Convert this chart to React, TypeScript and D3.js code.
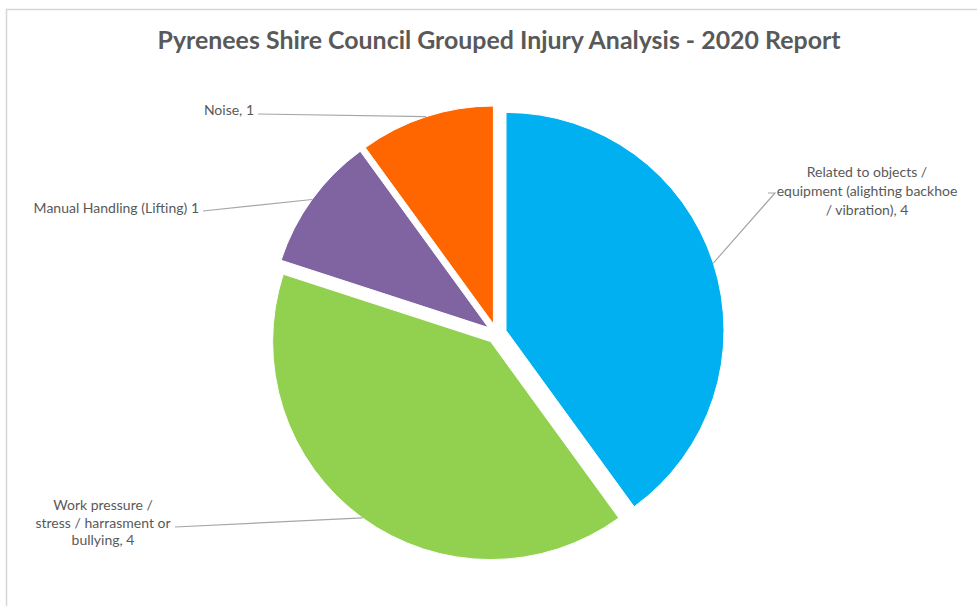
import React from "react";
import * as d3 from "d3";

const title = "Pyrenees Shire Council Grouped Injury Analysis - 2020 Report";
const categories = [
  "Related to objects / equipment (alighting backhoe / vibration)",
  "Work pressure / stress / harrasment or bullying",
  "Manual Handling (Lifting)",
  "Noise",
];
const values = [4, 4, 1, 1];
const colors = ["#00B0F0", "#92D050", "#8064A2", "#FF6600"];
const labelLines = [
  ["Related to objects /", "equipment (alighting backhoe", "/ vibration), 4"],
  ["Work pressure /", "stress / harrasment or", "bullying, 4"],
  ["Manual Handling (Lifting) 1"],
  ["Noise, 1"],
];

// layout
const W = 977;
const H = 606;
const CX = 496.5;
const CY = 333.5;
const R = 218;
const EXPLODE = 10;
const labelLayout = [
  { x: 867, y: 177, anchor: "middle", lh: 19, lx: 768, ly: 193, stub: 775 },
  { x: 103, y: 510, anchor: "middle", lh: 17.5, lx: 175, ly: 527, stub: 175 },
  { x: 199, y: 213, anchor: "end", lh: 17, lx: 203, ly: 211, stub: 203 },
  { x: 254, y: 115, anchor: "end", lh: 17, lx: 258, ly: 114, stub: 258 },
];

export default function App() {
  const pie = d3.pie<number>().sort(null).value((d) => d)(values);
  const arc = d3.arc<d3.PieArcDatum<number>>().innerRadius(0).outerRadius(R);
  const font = "Lato, 'Open Sans', sans-serif";

  return (
    <svg
      width={W}
      height={H}
      style={{ position: "absolute", left: 0, top: 0, background: "#fff" }}
      xmlns="http://www.w3.org/2000/svg"
    >
      <rect x={0} y={0} width={W} height={H} fill="#fff" />
      <line x1={6} y1={9.5} x2={W} y2={9.5} stroke="#d6d6d6" strokeWidth={1.5} />
      <line x1={6.5} y1={9} x2={6.5} y2={H} stroke="#d6d6d6" strokeWidth={1.5} />
      <text
        x={499}
        y={49}
        textAnchor="middle"
        fontFamily={font}
        fontWeight="bold"
        fontSize={24}
        fill="#595959"
        textLength={683}
        lengthAdjust="spacingAndGlyphs"
      >
        {title}
      </text>
      {pie.map((p, i) => {
        const mid = (p.startAngle + p.endAngle) / 2;
        const dx = Math.sin(mid) * EXPLODE;
        const dy = -Math.cos(mid) * EXPLODE;
        const ox = CX + dx + Math.sin(mid) * R;
        const oy = CY + dy - Math.cos(mid) * R;
        const L = labelLayout[i];
        const line = d3.line()([
          [L.lx, L.ly],
          [L.stub, L.ly],
          [ox, oy],
        ]);
        return (
          <g key={categories[i]}>
            <path
              d={arc(p) || ""}
              transform={`translate(${CX + dx},${CY + dy})`}
              fill={colors[i]}
              stroke="#fff"
              strokeWidth={1}
            />
            <path d={line || ""} fill="none" stroke="#a6a6a6" strokeWidth={1.2} />
            <text
              textAnchor={L.anchor as any}
              fontFamily={font}
              fontSize={14}
              fill="#595959"
            >
              {labelLines[i].map((t, j) => (
                <tspan key={j} x={L.x} y={L.y + j * L.lh}>
                  {t}
                </tspan>
              ))}
            </text>
          </g>
        );
      })}
    </svg>
  );
}
